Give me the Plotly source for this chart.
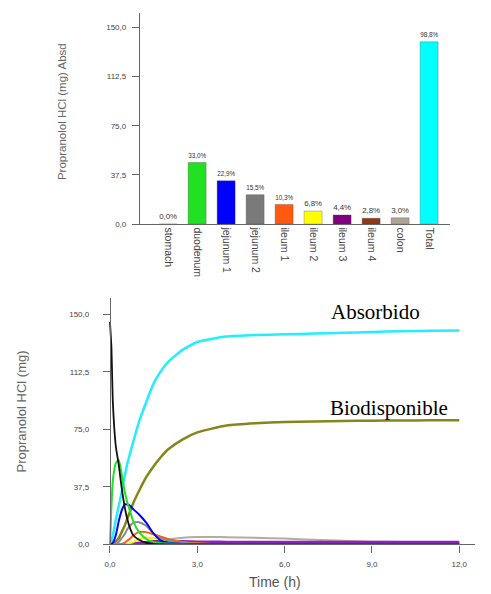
import plotly.graph_objects as go

# ---------- Top chart data ----------
segments = ["stomach", "duodenum", "jejunum 1", "jejunum 2", "ileum 1", "ileum 2",
            "ileum 3", "ileum 4", "colon", "Total"]
absorbed_mg = [0.0, 47.0, 33.0, 22.5, 15.0, 10.0, 7.0, 4.5, 4.8, 139.0]
absorbed_pct = ["0,0%", "33,0%", "22,9%", "15,5%", "10,3%", "6,8%", "4,4%", "2,8%", "3,0%", "98,8%"]
bar_colors = ["#000000", "#22e022", "#0000ff", "#7a7a7a", "#ff5a10", "#ffff00",
              "#800080", "#8b3a1a", "#b0a493", "#00ffff"]

y_tickvals = [0, 37.5, 75, 112.5, 150]
y_ticktext = ["0,0", "37,5", "75,0", "112,5", "150,0"]

# ---------- Bottom chart data ----------
time_h = [0, 0.05, 0.1, 0.2, 0.3, 0.4, 0.5, 0.6, 0.7, 0.8, 1.0, 1.25, 1.5, 1.75, 2.0,
          2.5, 3.0, 3.5, 4, 5, 6, 7, 8, 9, 10, 11, 12]
stomach = [145, 128, 92, 64, 52, 37, 25, 16, 10, 6, 3, 1, 0.3, 0.1, 0,
           0, 0, 0, 0, 0, 0, 0, 0, 0, 0, 0, 0]
duodenum = [0, 25, 42, 53, 55, 46, 35, 27, 21, 15, 8, 3.5, 1.5, 0.8, 0.5,
            0.2, 0, 0, 0, 0, 0, 0, 0, 0, 0, 0, 0]
jejunum1 = [0, 0, 1, 6, 15, 22, 26, 26, 25, 23, 19.5, 14, 7, 2.5, 1,
            0.3, 0, 0, 0, 0, 0, 0, 0, 0, 0, 0, 0]
jejunum2 = [0, 0, 0, 0.5, 1.5, 4, 6.5, 10, 12.5, 14, 14.5, 12, 7, 4, 2.5,
            1, 0.3, 0, 0, 0, 0, 0, 0, 0, 0, 0, 0]
ileum1 = [0, 0, 0, 0, 0, 0.3, 1, 2.5, 4, 6, 8, 8, 6.5, 5, 3.5,
          1.5, 0.5, 0.2, 0, 0, 0, 0, 0, 0, 0, 0, 0]
ileum2 = [0, 0, 0, 0, 0, 0, 0, 0.3, 0.8, 1.5, 3.5, 4.5, 4, 3.2, 2.5,
          1.2, 0.5, 0.2, 0.1, 0, 0, 0, 0, 0, 0, 0, 0]
ileum3 = [0, 0, 0, 0, 0, 0, 0, 0, 0.2, 0.5, 1, 1.5, 2, 2.2, 2.2,
          2, 1.8, 1.7, 1.6, 1.5, 1.5, 1.5, 1.5, 1.5, 1.5, 1.5, 1.5]
ileum4 = [0, 0, 0, 0, 0, 0, 0, 0, 0, 0, 0, 0.2, 0.5, 0.8, 1,
          1.4, 1.5, 1.4, 1.2, 0.8, 0.5, 0.4, 0.3, 0.2, 0.2, 0.1, 0.1]
colon = [0, 0, 0, 0, 0, 0, 0, 0, 0, 0, 0.2, 0.5, 1, 2, 3,
         4.3, 4.8, 4.8, 4.7, 4.3, 3.8, 3.0, 2.3, 1.8, 1.5, 1.2, 1.0]
absorbido = [0, 2, 6, 16, 25, 34, 44, 53, 60, 67, 80, 93, 105, 113, 119,
             127, 132, 134, 135.5, 136.5, 137, 137.5, 138, 138.5, 139, 139.3, 139.5]
biodisponible = [0, 0, 0.5, 2, 4, 8, 12, 17, 22, 27, 35, 44, 51, 57, 62,
                 68.5, 73, 75.5, 77.5, 79, 79.8, 80.2, 80.5, 80.7, 80.8, 80.9, 81]

x_tickvals = [0, 3, 6, 9, 12]
x_ticktext = ["0,0", "3,0", "6,0", "9,0", "12,0"]

# page has an 8px body margin; figure is sized to fit the window
OFF = 8
W, H = 491 - OFF, 594 - OFF


def fx(p):
    return (p - OFF) / W


def fy(p):
    return 1 - (p - OFF) / H


fig = go.Figure()

fig.add_trace(go.Bar(
    x=segments, y=absorbed_mg, text=absorbed_pct, textposition="outside",
    marker=dict(color=bar_colors, line=dict(width=0.6, color="rgba(60,60,60,0.5)")),
    textfont=dict(size=8, color="#333", family="Liberation Sans"),
    cliponaxis=False, xaxis="x", yaxis="y", showlegend=False,
))

series = [
    (absorbido, "#22eeff", 2.5),
    (biodisponible, "#85851a", 2.5),
    (colon, "#b5ab9c", 2),
    (ileum4, "#8b3a1a", 2),
    (ileum3, "#8a20c0", 2.5),
    (ileum2, "#ffee00", 2),
    (ileum1, "#ff5a10", 2),
    (jejunum2, "#8a8a8a", 2),
    (jejunum1, "#0000ff", 2),
    (duodenum, "#22e022", 2),
    (stomach, "#111111", 1.8),
]
for ys, col, w in series:
    fig.add_trace(go.Scatter(
        x=time_h, y=ys, mode="lines", line=dict(color=col, width=w, shape="spline", smoothing=0.5),
        xaxis="x2", yaxis="y2", showlegend=False, cliponaxis=False,
    ))

tickfont = dict(size=8, color="#444", family="Liberation Sans")
axis_common = dict(showline=True, linecolor="#666", linewidth=1.3, ticks="outside",
                   ticklen=7, tickcolor="#666", tickwidth=1.3, showgrid=False,
                   zeroline=False, tickfont=tickfont)


def label(text, x, y, size, color, family, xanchor="center", yanchor="middle", angle=0):
    return dict(text=text, x=fx(x), y=fy(y), xref="paper", yref="paper",
                xanchor=xanchor, yanchor=yanchor, textangle=angle, showarrow=False,
                font=dict(size=size, color=color, family=family))


fig.update_layout(
    width=W, height=H, margin=dict(l=0, r=0, t=0, b=0),
    paper_bgcolor="white", plot_bgcolor="white", bargap=0.38,
    xaxis=dict(domain=[fx(140), fx(450)], range=[-0.97, 9.72], anchor="y",
               showline=True, linecolor="#666", linewidth=1.3, ticks="",
               tickangle=90, tickfont=dict(size=10.5, color="#444", family="Liberation Sans"),
               showgrid=False, zeroline=False, fixedrange=True),
    yaxis=dict(domain=[fy(226), fy(13)], range=[0, 161], anchor="x",
               tickvals=y_tickvals, ticktext=y_ticktext, ticklabelstandoff=4, **axis_common),
    xaxis2=dict(domain=[fx(103), fx(475)], range=[-0.24, 12.54], anchor="y2",
                tickvals=x_tickvals, ticktext=x_ticktext, ticklabelstandoff=5, **axis_common),
    yaxis2=dict(domain=[fy(549), fy(300)], range=[0, 161], anchor="free",
                position=fx(110), tickvals=y_tickvals, ticktext=y_ticktext,
                ticklabelstandoff=12, **axis_common),
    annotations=[
        label("Propranolol HCl (mg) Absd", 62, 113, 11.5, "#666", "Liberation Sans", angle=-90),
        label("Propranolol HCl (mg)", 22, 415, 13, "#666", "Liberation Sans", angle=-90),
        label("Time (h)", 275, 577, 14, "#555", "Liberation Sans", yanchor="top"),
        label("Absorbido", 329, 315, 21, "#000", "Liberation Serif", xanchor="left"),
        label("Biodisponible", 328, 411, 21, "#000", "Liberation Serif", xanchor="left"),
    ],
)

fig.write_html("out.html")
